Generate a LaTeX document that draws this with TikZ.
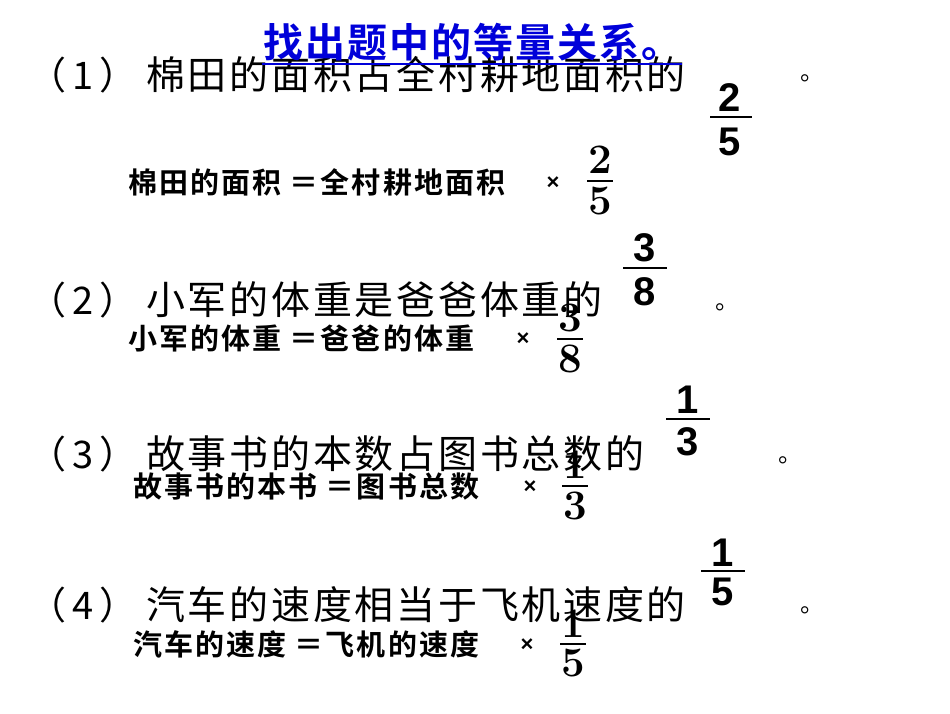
\documentclass[tikz,border=0pt]{standalone}
\usepackage{fontspec}
\newfontfamily\cjk[LetterSpace=7]{Noto Sans CJK SC}
\newfontfamily\cjkp{Noto Sans CJK SC}
\newfontfamily\cjkb[LetterSpace=7]{Noto Sans CJK SC Bold}
\newfontfamily\cjkt[LetterSpace=5]{Noto Sans CJK SC Bold}
\newfontfamily\arb{Liberation Sans}
\begin{document}
\begin{tikzpicture}[x=1pt,y=-1pt,
  big/.style={inner sep=0,anchor=base west,font=\cjk\fontsize{39}{42}\selectfont},
  pre/.style={inner sep=0,anchor=base west,font=\cjkp\fontsize{38}{40}\selectfont},
  frm/.style={inner sep=0,anchor=base west,font=\cjkb\fontsize{29}{31}\selectfont},
  tms/.style={inner sep=0,font=\arb\bfseries\fontsize{22}{24}\selectfont},
  dot/.style={inner sep=0,font=\cjkp\fontsize{24}{26}\selectfont},
  bigfrac/.style={inner sep=0,font=\arb\bfseries\fontsize{40}{42}\selectfont},
  smfrac/.style={inner sep=0,font=\bfseries\fontsize{42}{44}\selectfont},
  ttl/.style={inner sep=0,font=\cjkt\fontsize{40}{42}\selectfont,text=blue!85!black}]
\useasboundingbox (0,0) rectangle (950,713);
% row 1
\node[pre] (p1) at (28,89) {（\,1\,）};
\node[big] (t1) at (146,89) {棉田的面积占全村耕地面积的};
\node[bigfrac] (n1) at (730,98) {2};
\node[bigfrac] (d1) at (730,142) {5};
\draw[line width=2.5pt] (710,117) -- (752,117);
\node[dot] (o1) at (812,78) {。};
\node[frm] (f1) at (128,193) {棉田的面积 ＝全村耕地面积};
\node[tms] (x1) at (553,183) {×};
\node[smfrac] (fn1) at (600,160) {2};
\node[smfrac] (fd1) at (600,201) {5};
\draw[line width=1.6pt] (587,181) -- (613,181);
% title
\node[ttl] (title) at (472,42) {找出题中的等量关系。};
\draw[blue!85!black,line width=2pt] (262,64) -- (682,64);
% row 2
\node[pre] (p2) at (28,314) {（\,2\,）};
\node[big] (t2) at (146,314) {小军的体重是爸爸体重的};
\node[bigfrac] (n2) at (645,248) {3};
\node[bigfrac] (d2) at (645,292) {8};
\draw[line width=2.5pt] (623,268) -- (667,268);
\node[dot] (o2) at (727,307) {。};
\node[frm] (f2) at (128,349) {小军的体重 ＝爸爸的体重};
\node[tms] (x2) at (523,339) {×};
\node[smfrac] (fn2) at (570,318) {3};
\node[smfrac] (fd2) at (570,359) {8};
\draw[line width=1.6pt] (557,339) -- (583,339);
% row 3
\node[pre] (p3) at (28,468) {（\,3\,）};
\node[big] (t3) at (146,468) {故事书的本数占图书总数的};
\node[bigfrac] (n3) at (688,400) {1};
\node[bigfrac] (d3) at (688,442) {3};
\draw[line width=2.5pt] (666,419) -- (710,419);
\node[dot] (o3) at (790,460) {。};
\node[frm] (f3) at (133,497) {故事书的本书 ＝图书总数};
\node[tms] (x3) at (530,487) {×};
\node[smfrac] (fn3) at (575,465) {1};
\node[smfrac] (fd3) at (575,506) {3};
\draw[line width=1.6pt] (562,486) -- (588,486);
% row 4
\node[pre] (p4) at (28,619) {（\,4\,）};
\node[big] (t4) at (146,619) {汽车的速度相当于飞机速度的};
\node[bigfrac] (n4) at (723,553) {1};
\node[bigfrac] (d4) at (723,592) {5};
\draw[line width=2.5pt] (701,571) -- (745,571);
\node[dot] (o4) at (812,610) {。};
\node[frm] (f4) at (133,655) {汽车的速度 ＝飞机的速度};
\node[tms] (x4) at (527,645) {×};
\node[smfrac] (fn4) at (573,624) {1};
\node[smfrac] (fd4) at (573,663) {5};
\draw[line width=1.6pt] (560,644) -- (586,644);
\end{tikzpicture}
\end{document}
